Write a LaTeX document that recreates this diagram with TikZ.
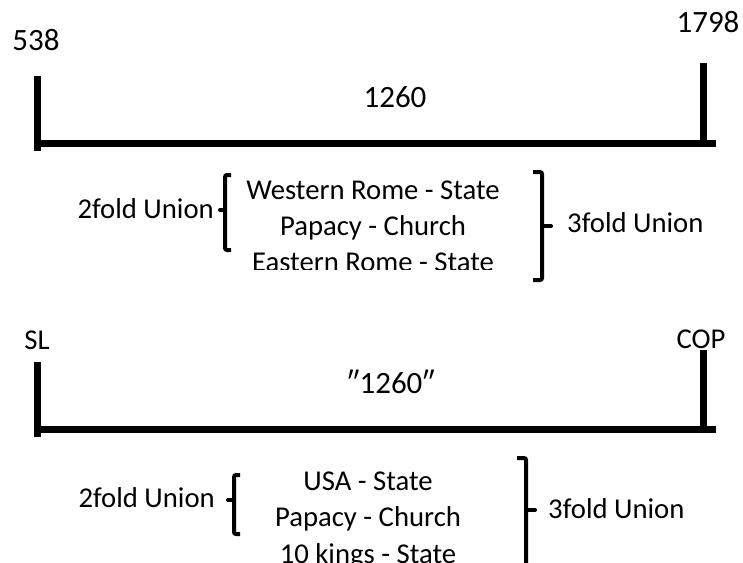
\documentclass[tikz,border=0pt]{standalone}
\usepackage{fontspec}
\setmainfont{Carlito}
\begin{document}
\begin{tikzpicture}[x=1pt,y=-1pt,
  txt/.style={inner sep=0pt, font=\fontsize{28.7}{34}\selectfont},
  lbl/.style={inner sep=0pt, font=\fontsize{31}{36}\selectfont},
  bar/.style={line width=7pt, line cap=butt},
  brk/.style={line width=4pt, rounded corners=2pt, line cap=butt},
  nub/.style={line width=4pt, line cap=round}]
\useasboundingbox (0,0) rectangle (743,562);
\clip (0,0) rectangle (743,562);
% ---------- top timeline ----------
\node[lbl, anchor=base] (t538) at (36,50) {538};
\node[lbl, anchor=base] (t1798) at (708,32) {1798};
\node[lbl, anchor=base] (t1260) at (395,107) {1260};
\coordinate (tl1) at (37,76);  \coordinate (tl2) at (37,151);
\coordinate (th1) at (37,143); \coordinate (th2) at (716,143);
\coordinate (tr1) at (703,63); \coordinate (tr2) at (703,140);
\draw[bar] (tl1) -- (tl2);
\draw[bar] (th1) -- (th2);
\draw[bar] (tr1) -- (tr2);
% top group
\node[txt, anchor=base east] (t2fold) at (214,218) {2fold Union};
\draw[brk] (231,175) -- (225,175) -- (225,250) -- (231,250);
\draw[nub] (225,210) -- (220,210);
\node[txt, anchor=base] (tw) at (373,199) {Western Rome - State};
\node[txt, anchor=base] (tp) at (373,235) {Papacy - Church};
\begin{scope}
\clip (230,240) rectangle (520,269);
\node[txt, anchor=base] (te) at (373,271) {Eastern Rome - State};
\end{scope}
\draw[brk] (533,172) -- (542,172) -- (542,280) -- (533,280);
\draw[nub] (542,226) -- (551,226);
\node[txt, anchor=base west] (t3fold) at (567,232) {3fold Union};
% ---------- bottom timeline ----------
\node[txt, anchor=base] (bsl) at (37,349) {SL};
\node[txt, anchor=base] (bcop) at (701,348) {COP};
\node[lbl, anchor=base] (b1260) at (391,393) {″1260″};
\coordinate (bl1) at (37,362);  \coordinate (bl2) at (37,437);
\coordinate (bh1) at (37,429);  \coordinate (bh2) at (716,429);
\coordinate (br1) at (703,350); \coordinate (br2) at (703,426);
\draw[bar] (bl1) -- (bl2);
\draw[bar] (bh1) -- (bh2);
\draw[bar] (br1) -- (br2);
% bottom group
\node[txt, anchor=base east] (b2fold) at (215,507) {2fold Union};
\draw[brk] (240,475) -- (234,475) -- (234,534) -- (240,534);
\draw[nub] (234,500) -- (228,500);
\node[txt, anchor=base] (bu) at (368,490) {USA - State};
\node[txt, anchor=base] (bp) at (368,526) {Papacy - Church};
\node[txt, anchor=base] (bk) at (368,563) {10 kings - State};
\draw[brk] (517,458) -- (526,458) -- (526,580);
\draw[nub] (526,510) -- (535,510);
\node[txt, anchor=base west] (b3fold) at (548,518) {3fold Union};
\end{tikzpicture}
\end{document}
